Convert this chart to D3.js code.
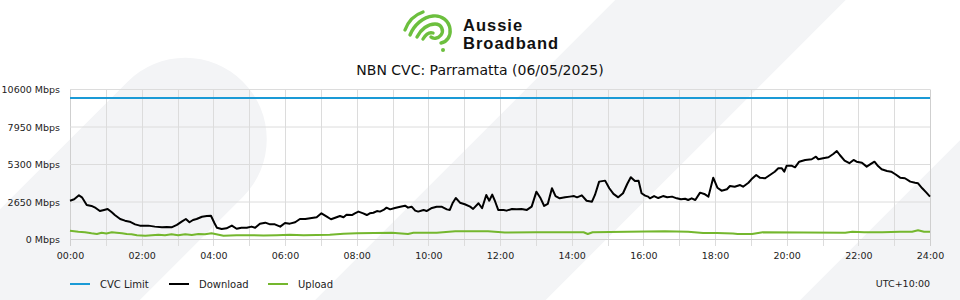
<!DOCTYPE html>
<html><head><meta charset="utf-8">
<script src="https://cdn.jsdelivr.net/npm/d3@7"></script>
<style>html,body{margin:0;padding:0;background:#fff;overflow:hidden}svg{display:block}</style>
</head><body><svg id="chart" width="960" height="300"></svg>
<script>
const chartTitle = "NBN CVC: Parramatta (06/05/2025)";
const brandLines = ["Aussie", "Broadband"];
const yTicks = [0, 2650, 5300, 7950, 10600];
const xTickMinutes = [0,120,240,360,480,600,720,840,960,1080,1200,1320,1440];
const xTickLabels = ["00:00","02:00","04:00","06:00","08:00","10:00","12:00","14:00","16:00","18:00","20:00","22:00","24:00"];
const cvcLimit = 10000;
const seriesNames = ["CVC Limit", "Download", "Upload"];
const seriesColors = ["#1a9ad6", "#000000", "#74b72e"];
const timezoneLabel = "UTC+10:00";

const downloadMinutes = [0,7,15,20,28,36,43,50,57,63,70,75,84,92,100,109,117,131,142,154,162,170,179,187,194,200,206,212,221,229,236,242,246,254,262,271,279,287,296,304,310,318,327,335,343,352,360,368,377,385,394,402,413,421,430,437,444,452,458,463,472,477,483,491,497,502,508,514,519,525,530,536,544,553,561,566,572,578,583,592,597,606,614,622,631,636,641,646,653,661,670,675,684,690,697,702,707,712,717,726,731,740,748,756,765,773,781,788,794,800,807,813,820,829,837,844,849,857,865,874,879,886,896,903,910,918,926,933,939,946,952,957,963,968,971,978,985,993,1000,1008,1016,1023,1030,1035,1041,1047,1055,1062,1069,1077,1084,1091,1100,1105,1113,1122,1127,1136,1141,1149,1155,1164,1172,1180,1186,1192,1196,1200,1208,1214,1221,1231,1242,1249,1253,1261,1270,1278,1284,1289,1297,1305,1312,1317,1326,1334,1341,1347,1353,1359,1368,1375,1382,1390,1398,1407,1415,1420,1427,1434,1440];
const downloadMbps = [2740,2840,3120,2980,2440,2370,2230,2010,2090,2160,1920,1730,1450,1330,1260,1070,980,980,910,860,880,860,1030,1260,1450,1220,1380,1450,1610,1660,1680,1150,830,740,790,980,760,830,830,910,830,1120,1190,1070,1070,910,1170,1120,1220,1450,1450,1500,1570,1850,1610,1430,1540,1660,1570,1750,1730,1850,1970,1850,1730,1850,1890,2010,1970,2090,2250,2130,2230,2320,2390,2250,2320,2040,1970,2090,2010,2230,2320,2320,2130,2090,2600,2930,2600,2490,2320,2160,2560,2210,3150,2740,3170,2670,2090,2090,2040,2160,2130,2160,2090,2320,3380,2910,2370,2510,3620,3070,2910,2980,3030,3070,2980,3120,2740,2670,3150,4090,4160,3620,3220,2980,3270,3920,4400,4130,4160,3270,3100,3030,2910,3070,2930,3070,2980,3030,2910,2840,2880,2790,2910,2790,3310,3220,3030,4370,3660,3450,3550,3780,3730,3850,3730,4010,4250,4560,4370,4330,4560,4790,5030,5030,4790,5220,5220,5100,5500,5620,5670,5850,5670,5740,5810,6040,6250,5970,5570,5390,5620,5500,5430,5150,5340,5500,5190,4960,4840,4790,4610,4370,4330,4090,4010,3970,3620,3310,3030];

const uploadMinutes = [0,14,25,36,45,53,61,70,78,87,95,103,112,126,137,148,159,170,181,193,204,215,226,237,257,279,301,324,346,368,391,413,435,458,480,539,566,575,614,645,700,728,780,860,867,875,933,996,1035,1060,1083,1110,1118,1142,1160,1298,1310,1330,1360,1390,1410,1420,1430,1440];
const uploadMbps = [620,550,520,440,390,480,430,510,480,440,390,370,300,270,300,340,300,370,300,370,320,390,370,440,270,300,300,290,300,330,300,320,340,410,440,480,390,470,470,580,580,500,510,510,390,510,550,580,550,460,460,430,390,390,510,480,550,520,520,550,550,650,550,550];

const svg = d3.select("#chart");
const W = 960, H = 300;
const bgGrey = "#f3f4f6";

// background decorative bands
const bg = svg.append("g");
bg.append("rect").attr("width", W).attr("height", H).attr("fill", "#ffffff");
const bands = [
  {u0: -700, u1: 114, v0: 148, v1: 311},
  {u0: -800, u1: 800, v0: 435, v1: 598},
  {u0: -900, u1: 900, v0: 778, v1: 941}
];
bg.selectAll("rect.band").data(bands).join("rect").attr("class", "band")
  .attr("x", d => d.u0).attr("y", d => d.v0)
  .attr("width", d => d.u1 - d.u0).attr("height", d => d.v1 - d.v0)
  .attr("rx", d => (d.v1 - d.v0) / 2)
  .attr("transform", "rotate(-45)")
  .attr("fill", bgGrey);

// logo
const logo = svg.append("g").attr("fill", "none").attr("stroke", "#6cbf3e")
  .attr("stroke-width", 3.4).attr("stroke-linecap", "round").attr("stroke-linejoin", "round");
const logoPaths = [
  "M405,30 C408,22 414,15 423,12",
  "M410,35 C414,25 423,17 433,16 C442,15 449,21 450,29 C451,36 447,42 441,43",
  "M417,37 C421,29 428,24 435,24 C442,24 444,31 441,35 C438,39 433,39 431,37",
  "M423,39 C426,34 430,32 433,33"
];
logo.selectAll("path").data(logoPaths).join("path").attr("d", d => d);
svg.append("circle").attr("cx", 443).attr("cy", 50).attr("r", 2).attr("fill", "#6cbf3e");
svg.append("g").selectAll("text").data(brandLines).join("text")
  .attr("x", 463).attr("y", (d, i) => 30.5 + i * 18.5)
  .attr("font-family", "'Liberation Sans', Arial, sans-serif").attr("font-weight", 700)
  .attr("font-size", 16.5).attr("letter-spacing", 1).attr("fill", "#111")
  .text(d => d);

svg.append("text").attr("x", 480).attr("y", 75).attr("text-anchor", "middle")
  .attr("font-family", "'DejaVu Sans', sans-serif").attr("font-size", 14).attr("fill", "#111")
  .text(chartTitle);

// scales
const x = d3.scaleLinear().domain([0, 1440]).range([70, 930]);
const y = d3.scaleLinear().domain([0, 10600]).range([239.5, 89.5]);

// grid
const grid = svg.append("g");
const hourMinutes = d3.range(0, 1441, 60);
grid.selectAll("line.v").data(hourMinutes).join("line").attr("class", "v")
  .attr("x1", d => Math.round(x(d)) + 0.5).attr("x2", d => Math.round(x(d)) + 0.5)
  .attr("y1", y(10600)).attr("y2", 246)
  .attr("stroke", d => (d === 0 || d === 1440) ? "#cfcfcf" : "#dcdcdc").attr("stroke-width", 1);
grid.selectAll("line.h").data(yTicks).join("line").attr("class", "h")
  .attr("x1", 70).attr("x2", 930)
  .attr("y1", d => y(d)).attr("y2", d => y(d))
  .attr("stroke", d => d === 0 ? "#cfcfcf" : "#dcdcdc").attr("stroke-width", 1);

// axes text
const fmtY = d => d + " Mbps";
const yAxis = d3.axisLeft(y).tickValues(yTicks).tickFormat(fmtY).tickSize(0).tickPadding(10);
const gy = svg.append("g").attr("transform", "translate(70,0)").call(yAxis);
gy.select(".domain").remove();
gy.selectAll("text").attr("font-family", "'DejaVu Sans', sans-serif").attr("font-size", 9.5).attr("fill", "#222");

const xAxis = d3.axisBottom(x).tickValues(xTickMinutes).tickFormat((d, i) => xTickLabels[i]).tickSize(0).tickPadding(13);
const gx = svg.append("g").attr("transform", "translate(0,239.5)").call(xAxis);
gx.select(".domain").remove();
gx.selectAll("text").attr("font-family", "'DejaVu Sans', sans-serif").attr("font-size", 9.5).attr("fill", "#222");

// series
const line = d3.line().x(d => x(d[0])).y(d => y(d[1]));
const cvcData = [[0, cvcLimit], [1440, cvcLimit]];
const downloadData = downloadMinutes.map((m, i) => [m, downloadMbps[i]]);
const uploadData = uploadMinutes.map((m, i) => [m, uploadMbps[i]]);
const seriesData = [cvcData, downloadData, uploadData];
svg.append("g").selectAll("path").data(seriesData).join("path")
  .attr("d", line).attr("fill", "none")
  .attr("stroke", (d, i) => seriesColors[i]).attr("stroke-width", 2)
  .attr("stroke-linejoin", "round");

// legend
const legend = svg.append("g").attr("transform", "translate(70,284)");
const li = legend.selectAll("g").data(seriesNames).join("g")
  .attr("transform", (d, i) => `translate(${i * 99},0)`);
li.append("line").attr("x1", 0).attr("x2", 20).attr("y1", 0).attr("y2", 0)
  .attr("stroke", (d, i) => seriesColors[i]).attr("stroke-width", 2);
li.append("text").attr("x", 30).attr("y", 0).attr("dy", "0.35em")
  .attr("font-family", "'DejaVu Sans', sans-serif").attr("font-size", 10).attr("fill", "#222")
  .text(d => d);
svg.append("text").attr("x", 930).attr("y", 284).attr("dy", "0.35em").attr("text-anchor", "end")
  .attr("font-family", "'DejaVu Sans', sans-serif").attr("font-size", 9.5).attr("fill", "#222")
  .text(timezoneLabel);
</script></body></html>
